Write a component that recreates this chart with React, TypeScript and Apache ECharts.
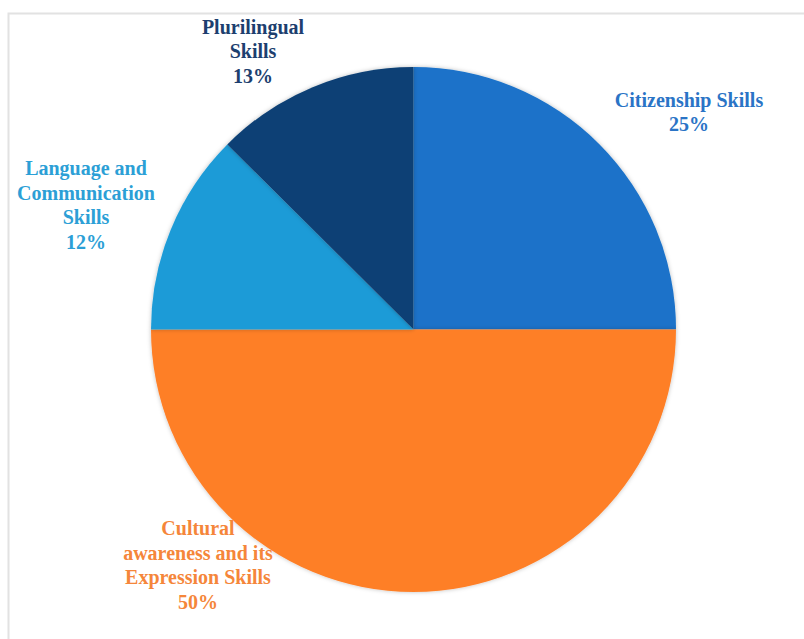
import React, { useEffect, useRef } from "react";
import * as echarts from "echarts";

const categories = [
  "Citizenship Skills",
  "Cultural\nawareness and its\nExpression Skills",
  "Language and\nCommunication\nSkills",
  "Plurilingual\nSkills",
];
const values = [25, 50, 12.45, 12.55];

const sliceColors = ["#1a72c9", "#fe7f27", "#1d9bd7", "#0a3f74"];
const labelColors = ["#2a74c6", "#f5863a", "#2c9fd6", "#1d3f6f"];
const labelCenters: [number, number][] = [
  [689, 112],
  [198, 565],
  [86, 205],
  [253, 51],
];

export default function App() {
  const ref = useRef<HTMLDivElement>(null);
  useEffect(() => {
    if (!ref.current) return;
    const chart = echarts.init(ref.current, null, { renderer: "svg" });
    chart.setOption({
      animation: false,
      backgroundColor: "#ffffff",
      graphic: [
        {
          type: "rect",
          shape: { x: 8.5, y: 13.5, width: 820, height: 660 },
          style: { fill: "none", stroke: "#e2e2e2", lineWidth: 2 },
          silent: true,
        },
      ],
      series: [
        {
          type: "pie",
          center: [413.5, 329.5],
          radius: 262.5,
          startAngle: 90,
          clockwise: true,
          data: categories.map((name, i) => ({
            name,
            value: values[i],
            itemStyle: { color: sliceColors[i] },
            label: { color: labelColors[i] },
          })),
          itemStyle: {
            borderWidth: 0,
            shadowBlur: 4,
            shadowColor: "rgba(0,0,0,0.25)",
          },
          label: {
            show: true,
            position: "outside",
            formatter: (p: any) => `${p.name}\n${Math.round(p.percent)}%`,
            fontFamily: "Liberation Serif",
            fontWeight: "bold",
            fontSize: 20,
            lineHeight: 24.5,
            align: "center",
            overflow: "none",
          },
          labelLine: { show: false },
          labelLayout: (params: any) => {
            const c = labelCenters[params.dataIndex];
            return { x: c[0], y: c[1], align: "center", verticalAlign: "middle" };
          },
          emphasis: { disabled: true },
        },
      ],
    });
    return () => chart.dispose();
  }, []);
  return (
    <div
      ref={ref}
      style={{ position: "absolute", left: 0, top: 0, width: 804, height: 639 }}
    />
  );
}
